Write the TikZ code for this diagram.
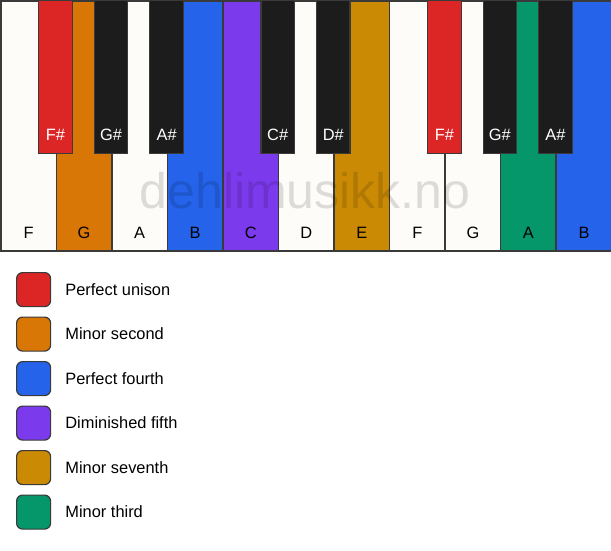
\documentclass[tikz,border=0pt]{standalone}
\usepackage{fontspec}
\setmainfont{Liberation Sans}
\usepackage{xcolor}
\usepackage{tikz}
\usetikzlibrary{positioning}

\definecolor{keyred}{HTML}{DC2626}
\definecolor{keyorange}{HTML}{D97706}
\definecolor{keyblue}{HTML}{2563EB}
\definecolor{keypurple}{HTML}{7C3AED}
\definecolor{keygold}{HTML}{CA8A04}
\definecolor{keygreen}{HTML}{059669}
\definecolor{ivory}{HTML}{FDFCF9}
\definecolor{ebony}{HTML}{1C1C1C}
\definecolor{keyline}{HTML}{3A3A3A}

\begin{document}
\begin{tikzpicture}[x=1pt, y=1pt, font=\fontsize{16.4}{19}\selectfont]

        \useasboundingbox (0,0) rectangle (611,-550);
        \tikzset{
          whitekey/.style={draw=keyline, line width=1.5pt, minimum width=55.545pt, minimum height=250pt, inner sep=0pt, anchor=north west},
          blackkey/.style={draw=keyline, line width=1.2pt, minimum width=33.5pt, minimum height=153pt, inner sep=0pt, anchor=north},
          swatch/.style={draw=keyline, line width=1.2pt, rounded corners=6pt, minimum size=34pt, inner sep=0pt, anchor=north west},
          keyname/.style={inner sep=0pt, anchor=base}
        }

        % White keys
        \foreach \i/\n/\c in {0/F/ivory, 1/G/keyorange, 2/A/ivory, 3/B/keyblue, 4/C/keypurple, 5/D/ivory,
                              6/E/keygold, 7/F/ivory, 8/G/ivory, 9/A/keygreen, 10/B/keyblue} {
          \node (w\i) [whitekey, fill=\c] at (\i*55.545,0) {};
          \node (wl\i) [keyname, above=13pt of w\i.south, anchor=base] {\n};
        }

        % Watermark
        \node (mark) [text=black, opacity=0.13, font=\fontsize{50}{58}\selectfont] at (305,-191) {dehlimusikk.no};

        % Black keys
        \foreach \i/\n/\c in {1/F\#/keyred, 2/G\#/ebony, 3/A\#/ebony, 5/C\#/ebony,
                              6/D\#/ebony, 8/F\#/keyred, 9/G\#/ebony, 10/A\#/ebony} {
          \node (b\i) [blackkey, fill=\c] at (\i*55.545,0) {};
          \node (bl\i) [keyname, text=white, above=14pt of b\i.south, anchor=base] {\n};
        }

        % Legend
        \foreach \i/\c/\t in {0/keyred/Perfect unison, 1/keyorange/Minor second, 2/keyblue/Perfect fourth,
                              3/keypurple/Diminished fifth, 4/keygold/Minor seventh, 5/keygreen/Minor third} {
          \node (sw\i) [swatch, fill=\c] at (16,-272-44.5*\i) {};
          \node (lg\i) [inner sep=0pt, right=14pt of sw\i] {\t};
        }

\end{tikzpicture}
\end{document}
